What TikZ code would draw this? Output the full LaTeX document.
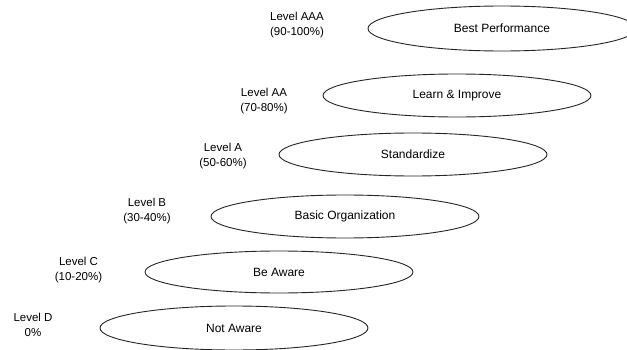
\documentclass[tikz,border=0pt]{standalone}
\usepackage{fontspec}
\setmainfont{Liberation Sans}
\usetikzlibrary{shapes.geometric}
\begin{document}
\begin{tikzpicture}[x=1pt,y=1pt,
  levelbox/.style={ellipse, draw=black!85, line width=0.9pt, inner sep=0pt,
    minimum width=268, font=\fontsize{12}{14}\selectfont},
  levellabel/.style={align=center, font=\fontsize{11.5}{14.5}\selectfont, inner sep=0pt}]
  \fill[white] (0,0) rectangle (627,349);
  \useasboundingbox (0,0) rectangle (627,349);
  \begin{scope}
  \clip (0,0) rectangle (627,349);
  % ellipses, top to bottom
  \node[levelbox, minimum height=45] (aaa) at (502,320.5) {Best Performance};
  \node[levelbox, minimum height=43] (aa) at (457,253.5) {Learn \& Improve};
  \node[levelbox, minimum height=43] (a) at (413,194.5) {Standardize};
  \node[levelbox, minimum height=43] (b) at (345,132.5) {Basic Organization};
  \node[levelbox, minimum height=42] (c) at (279,77) {Be Aware};
  \node[levelbox, minimum height=44] (d) at (234,21) {Not Aware};
  \end{scope}
  % level labels
  \node[levellabel] (laaa) at (297,324) {Level AAA\\(90-100\%)};
  \node[levellabel] (laa) at (264,248) {Level AA\\(70-80\%)};
  \node[levellabel] (la) at (223,193) {Level A\\(50-60\%)};
  \node[levellabel] (lb) at (147,138) {Level B\\(30-40\%)};
  \node[levellabel] (lc) at (78.5,79) {Level C\\(10-20\%)};
  \node[levellabel] (ld) at (33,24) {Level D\\0\%};
\end{tikzpicture}
\end{document}
